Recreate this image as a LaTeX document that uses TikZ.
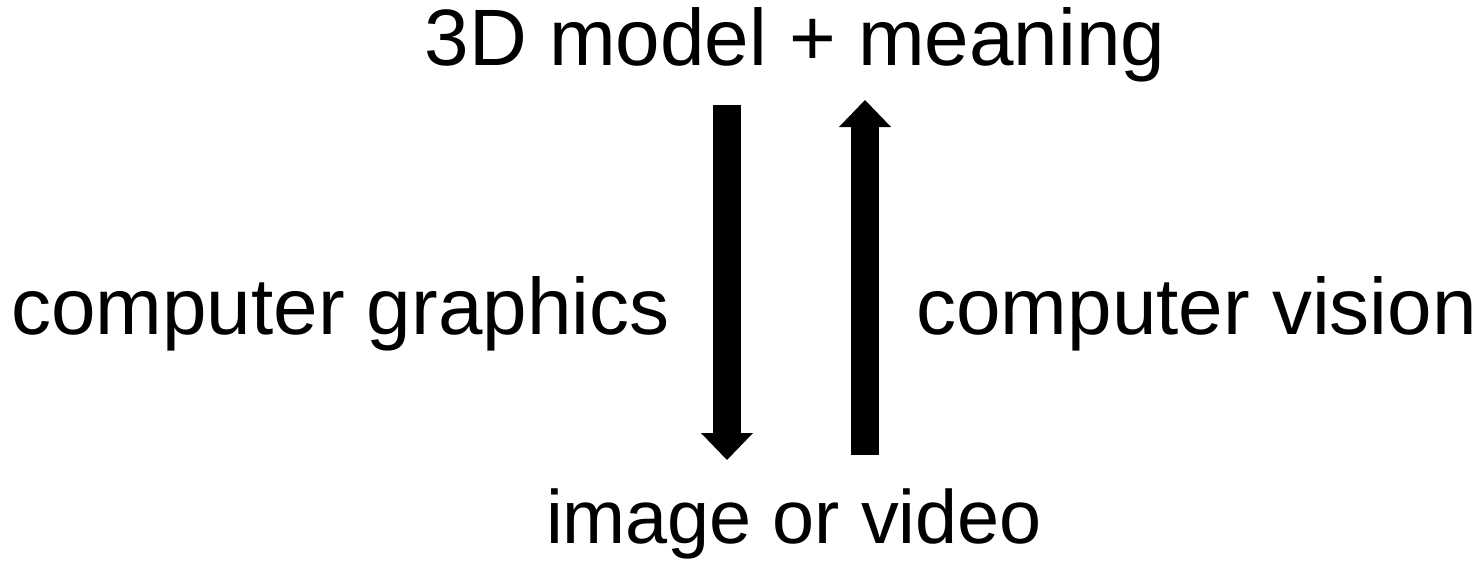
\documentclass[tikz,border=0pt]{standalone}
\usepackage{fontspec}
\setmainfont{Liberation Sans}
\usetikzlibrary{arrows.meta,calc,positioning}
\tikzset{
  word/.style  = {inner sep=0pt, font=\fontsize{40}{48}\selectfont},
  small/.style = {inner sep=0pt, font=\fontsize{37.8}{45}\selectfont},
  fat/.style   = {line width=14pt, line cap=butt,
                  -{Triangle[width=26pt, length=13.5pt, line width=0pt]}},
}

\begin{document}
\begin{tikzpicture}[x=0.5pt,y=0.5pt]
  \useasboundingbox (0,0) rectangle (1480,564);
  % the two ends
  \node[word, anchor=base] (model) at (795,499) {3D model + meaning};
  \node[small, anchor=base] (image) at (794,21) {image or video};
  % the two ways between them
  \node[word, anchor=base west] (cg) at (11,230) {computer graphics};
  \node[word, anchor=base west] (cv) at (916,230) {computer vision};
  % arrows
  \coordinate (gtop) at (727,459); \coordinate (gtip) at (727,104);
  \coordinate (vbot) at (865,109); \coordinate (vtip) at (865,464);
  \draw[fat] (gtop) -- (gtip);
  \draw[fat] (vbot) -- (vtip);
\end{tikzpicture}
\end{document}
